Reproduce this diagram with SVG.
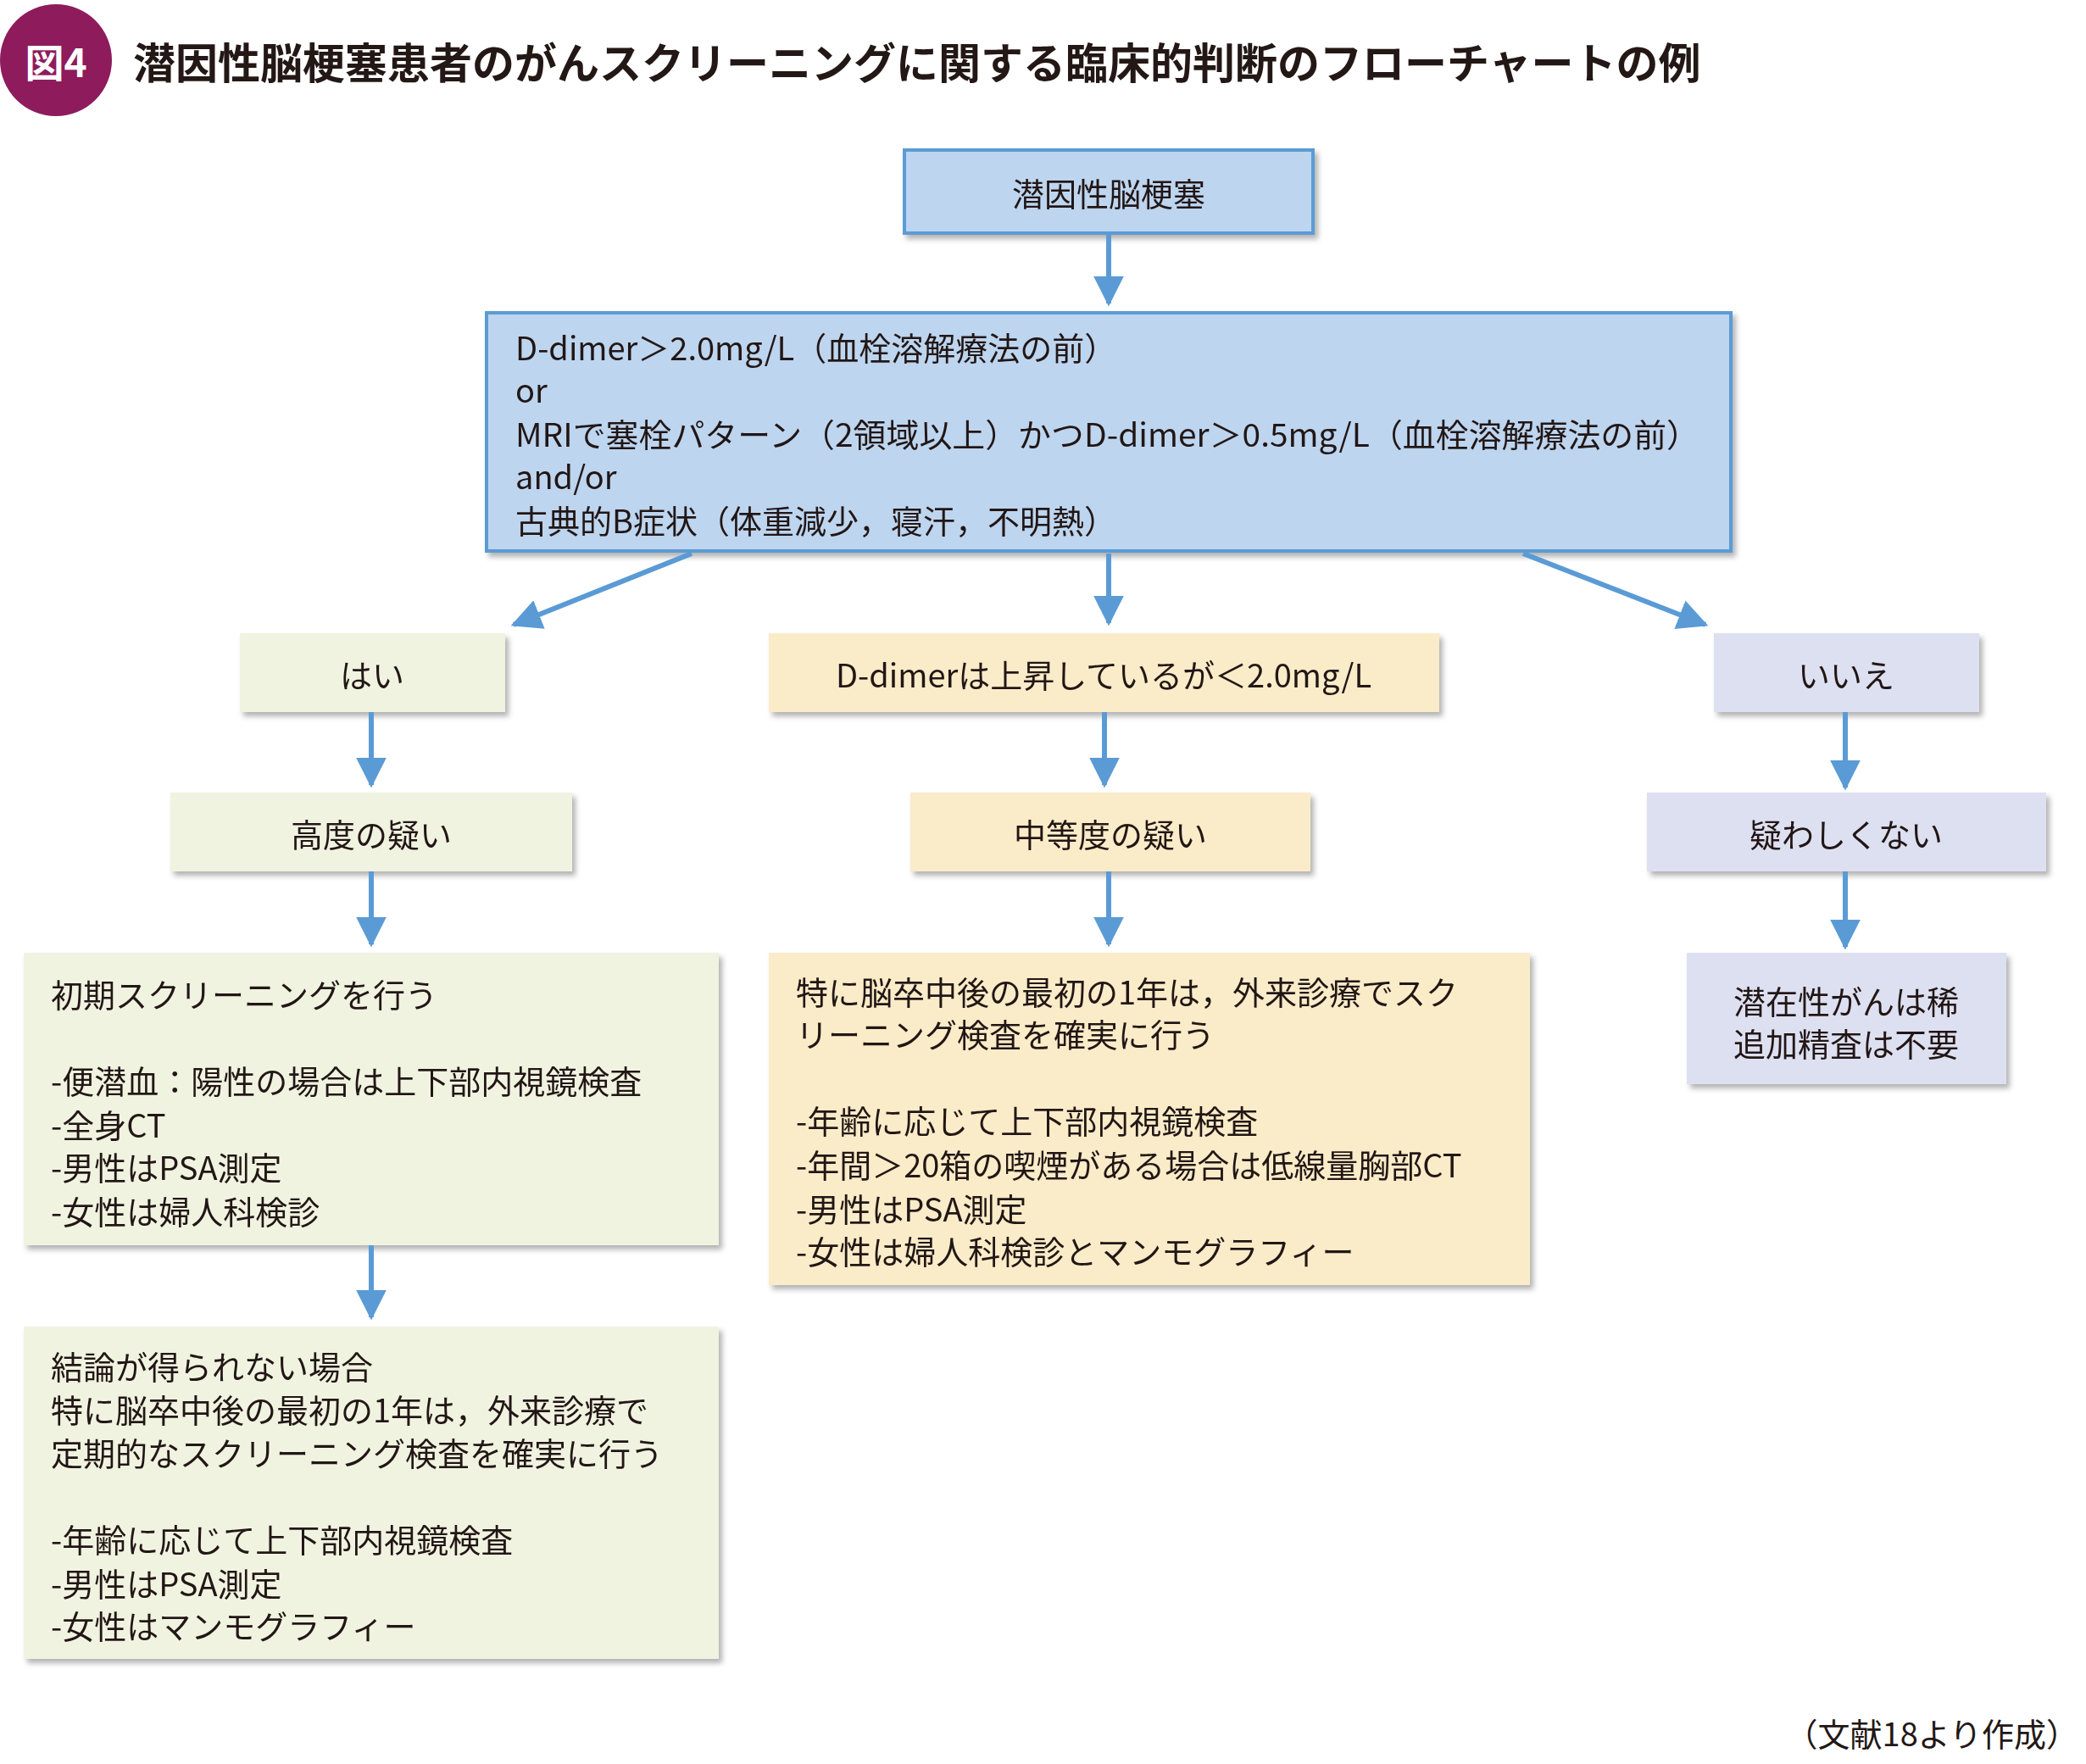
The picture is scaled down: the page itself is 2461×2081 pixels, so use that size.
<svg xmlns="http://www.w3.org/2000/svg" width="2461" height="2081" viewBox="0 0 2461 2081">
<style>
text{font-family:"Noto Sans CJK JP","Noto Sans",sans-serif;font-size:38px;fill:#231815;dominant-baseline:central}
.c{text-anchor:middle}
.b{fill:#bdd5ef;stroke:#5b9bd5;stroke-width:4}
.g{fill:#f1f3e1}.y{fill:#faecc8}.p{fill:#dde0f1}
.a{stroke:#5b9bd5;stroke-width:6;fill:none;marker-end:url(#ah)}
</style>
<defs>
<marker id="ah" viewBox="0 0 10 10" refX="9" refY="5" markerWidth="6" markerHeight="6" markerUnits="strokeWidth" orient="auto"><path d="M0,0L10,5L0,10z" fill="#5b9bd5"/></marker>
<filter id="sh" x="-5%" y="-5%" width="115%" height="125%"><feDropShadow dx="4" dy="5" stdDeviation="3" flood-color="#000" flood-opacity="0.3"/></filter>
</defs>
<rect width="2461" height="2081" fill="#fff"/>
<g id="title">
<circle cx="66" cy="71" r="66" fill="#8e1b5b"/>
<text x="66" y="71" class="c" style="fill:#fff;font-weight:bold;font-size:46px">図4</text>
<text x="157" y="71" style="font-weight:bold;font-size:50px">潜因性脳梗塞患者のがんスクリーニングに関する臨床的判断のフローチャートの例</text>
</g>
<g id="n1" filter="url(#sh)"><rect class="b" x="1067" y="177" width="482" height="98"/><text x="1308" y="226" class="c">潜因性脳梗塞</text></g>
<g id="n2" filter="url(#sh)"><rect class="b" x="574" y="369" width="1468" height="281"/>
<text x="608" y="408">D-dimer＞2.0mg/L（血栓溶解療法の前）</text>
<text x="608" y="458">or</text>
<text x="608" y="510" textLength="1397" lengthAdjust="spacingAndGlyphs">MRIで塞栓パターン（2領域以上）かつD-dimer＞0.5mg/L（血栓溶解療法の前）</text>
<text x="608" y="560">and/or</text>
<text x="608" y="612">古典的B症状（体重減少，寝汗，不明熱）</text></g>
<g id="n3" filter="url(#sh)"><rect class="g" x="283" y="747" width="313" height="93"/><text x="439" y="794" class="c">はい</text></g>
<g id="n4" filter="url(#sh)"><rect class="y" x="907" y="747" width="791" height="93"/><text x="1302" y="794" class="c">D-dimerは上昇しているが＜2.0mg/L</text></g>
<g id="n5" filter="url(#sh)"><rect class="p" x="2022" y="747" width="313" height="93"/><text x="2178" y="794" class="c">いいえ</text></g>
<g id="n6" filter="url(#sh)"><rect class="g" x="201" y="935" width="474" height="93"/><text x="438" y="982" class="c">高度の疑い</text></g>
<g id="n7" filter="url(#sh)"><rect class="y" x="1074" y="935" width="472" height="93"/><text x="1310" y="982" class="c">中等度の疑い</text></g>
<g id="n8" filter="url(#sh)"><rect class="p" x="1943" y="935" width="471" height="93"/><text x="2178" y="982" class="c">疑わしくない</text></g>
<g id="n9" filter="url(#sh)"><rect class="g" x="28" y="1124" width="820" height="345"/>
<text x="60" y="1171">初期スクリーニングを行う</text>
<text x="60" y="1273">-便潜血：陽性の場合は上下部内視鏡検査</text>
<text x="60" y="1325">-全身CT</text>
<text x="60" y="1375">-男性はPSA測定</text>
<text x="60" y="1427">-女性は婦人科検診</text></g>
<g id="n10" filter="url(#sh)"><rect class="y" x="907" y="1124" width="898" height="392"/>
<text x="939" y="1168">特に脳卒中後の最初の1年は，外来診療でスク</text>
<text x="939" y="1218">リーニング検査を確実に行う</text>
<text x="939" y="1320">-年齢に応じて上下部内視鏡検査</text>
<text x="939" y="1372">-年間＞20箱の喫煙がある場合は低線量胸部CT</text>
<text x="939" y="1424">-男性はPSA測定</text>
<text x="939" y="1474">-女性は婦人科検診とマンモグラフィー</text></g>
<g id="n11" filter="url(#sh)"><rect class="p" x="1990" y="1124" width="377" height="155"/>
<text x="2178" y="1179" class="c">潜在性がんは稀</text>
<text x="2178" y="1229" class="c">追加精査は不要</text></g>
<g id="n12" filter="url(#sh)"><rect class="g" x="28" y="1565" width="820" height="392"/>
<text x="60" y="1610">結論が得られない場合</text>
<text x="60" y="1661">特に脳卒中後の最初の1年は，外来診療で</text>
<text x="60" y="1712">定期的なスクリーニング検査を確実に行う</text>
<text x="60" y="1814">-年齢に応じて上下部内視鏡検査</text>
<text x="60" y="1866">-男性はPSA測定</text>
<text x="60" y="1916">-女性はマンモグラフィー</text></g>
<g id="connectors">
<line class="a" x1="1308" y1="277" x2="1308" y2="358"/>
<line class="a" x1="816" y1="653" x2="606" y2="737"/>
<line class="a" x1="1308" y1="653" x2="1308" y2="735"/>
<line class="a" x1="1797" y1="653" x2="2012" y2="737"/>
<line class="a" x1="438" y1="840" x2="438" y2="926"/>
<line class="a" x1="438" y1="1028" x2="438" y2="1114"/>
<line class="a" x1="438" y1="1469" x2="438" y2="1554"/>
<line class="a" x1="1303" y1="840" x2="1303" y2="926"/>
<line class="a" x1="1308" y1="1028" x2="1308" y2="1114"/>
<line class="a" x1="2177" y1="840" x2="2177" y2="929"/>
<line class="a" x1="2177" y1="1028" x2="2177" y2="1117"/>
</g>
<text x="2452" y="2043" style="text-anchor:end">（文献18より作成）</text>
</svg>
